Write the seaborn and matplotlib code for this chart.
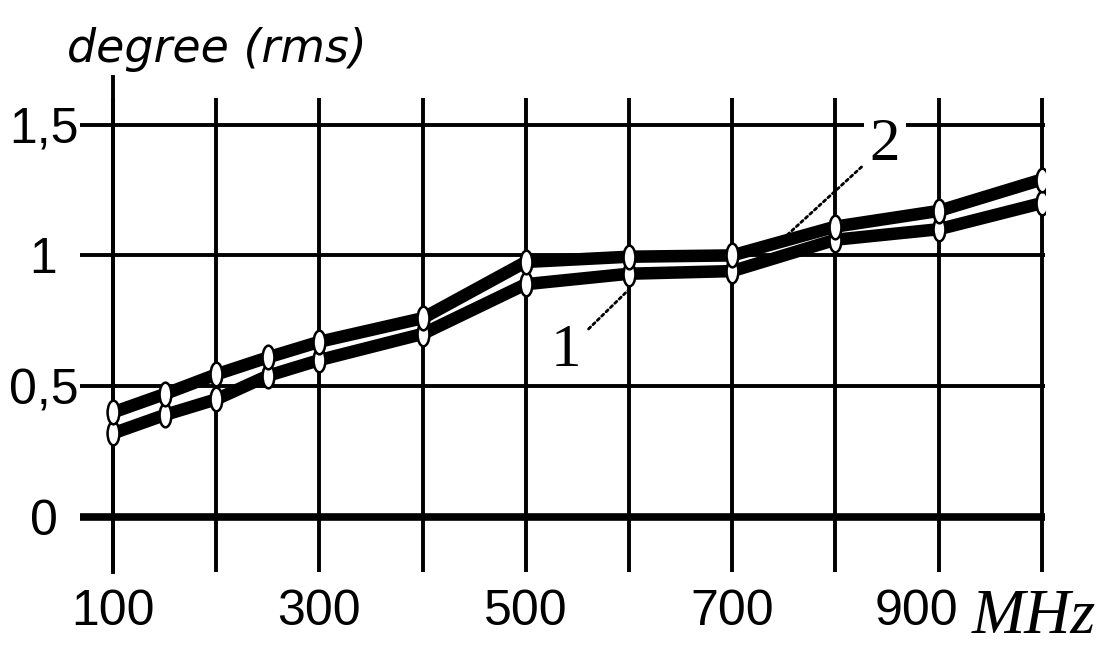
import matplotlib
matplotlib.use("Agg")
import matplotlib.pyplot as plt
import seaborn as sns
import pandas as pd
from matplotlib.markers import MarkerStyle
from matplotlib.transforms import Affine2D, ScaledTranslation

# ---- data ----
freq_mhz = [100, 150, 200, 250, 300, 400, 500, 600, 700, 800, 900, 1000]
series_1 = [0.32, 0.39, 0.45, 0.54, 0.60, 0.70, 0.89, 0.93, 0.94, 1.06, 1.10, 1.20]
series_2 = [0.40, 0.47, 0.545, 0.61, 0.67, 0.76, 0.975, 0.995, 1.00, 1.11, 1.17, 1.29]
series_names = ["1", "2"]

x_ticks = [100, 200, 300, 400, 500, 600, 700, 800, 900, 1000]
x_tick_labels = ["100", "", "300", "", "500", "", "700", "", "900", "MHz"]
y_ticks = [0, 0.5, 1, 1.5]
y_tick_labels = ["0", "0,5", "1", "1,5"]
y_title = "degree (rms)"

df = pd.DataFrame({
    "freq": freq_mhz * 2,
    "value": series_1 + series_2,
    "series": [series_names[0]] * len(freq_mhz) + [series_names[1]] * len(freq_mhz),
})

sns.set_style("white")
plt.rcParams["text.color"] = "black"
plt.rcParams["xtick.color"] = "black"
plt.rcParams["ytick.color"] = "black"
plt.rcParams["axes.labelcolor"] = "black"

tick_family, tick_size = "Liberation Sans", 36

fig = plt.figure(figsize=(11.06, 6.47), dpi=100)
ax = fig.add_axes([0.0723, 0.1159, 0.8725, 0.732])

# lines
sns.lineplot(data=df, x="freq", y="value", hue="series",
             palette=["black", "black"], linewidth=9, legend=False,
             ax=ax, zorder=3)

# ellipse markers
ell = MarkerStyle("o", transform=Affine2D().scale(0.5, 1.0))
sns.scatterplot(data=df, x="freq", y="value", marker=ell, s=290,
                color="white", edgecolor="black", linewidth=1.8,
                legend=False, ax=ax, zorder=4)

ax.set_xlim(68, 1003)
ax.set_ylim(-0.21, 1.6)

ax.set_xticks(x_ticks)
ax.set_xticklabels(x_tick_labels)
ax.set_yticks(y_ticks)
ax.set_yticklabels(y_tick_labels)

ax.grid(True, color="black", linewidth=2.8)
ax.set_axisbelow(True)
ax.axhline(0, color="black", linewidth=5.5, zorder=2)

for s in ["top", "right", "bottom"]:
    ax.spines[s].set_visible(False)
ax.spines["left"].set_position(("data", 100))
ax.spines["left"].set_bounds(-0.21, 1.68)
ax.spines["left"].set_linewidth(2.8)
ax.spines["left"].set_color("black")

ax.tick_params(axis="x", length=0, pad=12, colors="black")
ax.tick_params(axis="y", length=0, pad=50, colors="black")
for lab in ax.get_xticklabels():
    lab.set_fontfamily(tick_family)
    lab.set_fontsize(tick_size)
for lab in ax.get_yticklabels():
    lab.set_fontfamily(tick_family)
    lab.set_fontsize(tick_size)
    lab.set_horizontalalignment("center")

xlabs = ax.get_xticklabels()
# "900" sits a little left of its gridline in the reference, next to "MHz"
lab900 = xlabs[-2]
lab900.set_transform(lab900.get_transform() +
                     ScaledTranslation(-0.22, 0, fig.dpi_scale_trans))
mhz = xlabs[-1]
mhz.set_fontfamily("Liberation Serif")
mhz.set_fontstyle("italic")
mhz.set_fontsize(46)
mhz.set_transform(mhz.get_transform() +
                  ScaledTranslation(-0.08, 0, fig.dpi_scale_trans))

ax.set_xlabel("")
ax.set_ylabel(y_title, rotation=0, fontsize=33, fontstyle="italic",
              fontfamily="DejaVu Sans", color="black")
ax.yaxis.set_label_coords(0.142, 1.055)

# series labels with dotted leaders
ax.annotate(series_names[0], xy=(600, 0.87), xytext=(539, 0.635),
            ha="center", va="center", fontsize=44, fontfamily="Liberation Serif",
            color="black",
            arrowprops=dict(arrowstyle="-", linestyle=(0, (1, 1.2)), lw=2,
                            color="black", shrinkA=4, shrinkB=0),
            zorder=6)
ax.annotate(series_names[1], xy=(751, 1.07), xytext=(848, 1.42),
            ha="center", va="center", fontsize=44, fontfamily="Liberation Serif",
            color="black",
            bbox=dict(boxstyle="square,pad=0.1", fc="white", ec="none"),
            arrowprops=dict(arrowstyle="-", linestyle=(0, (1, 1.2)), lw=2,
                            color="black", shrinkA=2, shrinkB=0),
            zorder=6)

fig.savefig("out.png", dpi=100)
